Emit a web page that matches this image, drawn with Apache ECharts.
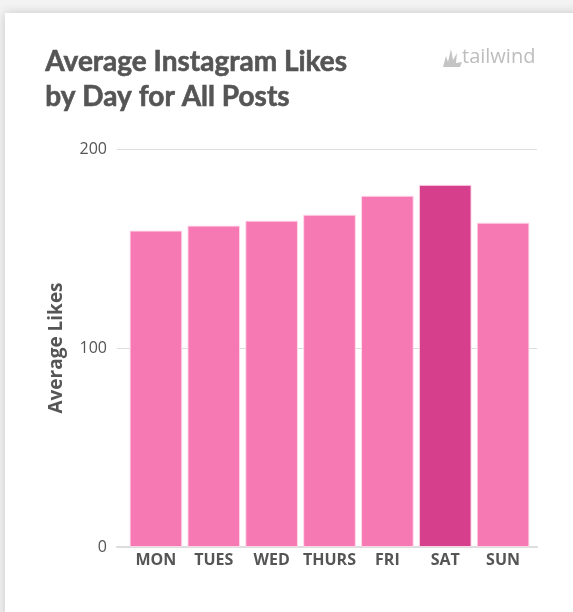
<!DOCTYPE html>
<html>
<head>
<meta charset="utf-8">
<script src="https://cdn.jsdelivr.net/npm/echarts@6/dist/echarts.min.js"></script>
<style>
html,body{margin:0;padding:0;background:#f3f3f3;}
#chart{width:573px;height:612px;}
</style>
</head>
<body>
<div id="chart"></div>
<script>
const titleLines = ['Average Instagram Likes', 'by Day for All Posts'];
const categories = ['MON', 'TUES', 'WED', 'THURS', 'FRI', 'SAT', 'SUN'];
const likes = [159, 161.5, 164, 167, 176.5, 182, 163];
const highlightDay = 'SAT';
const yTicks = [0, 100, 200];
const yAxisTitle = 'Average Likes';
const brand = 'tailwind';

const pink = '#f779b4';
const deep = '#d63f8c';
const textColor = '#555555';

const chart = echarts.init(document.getElementById('chart'), null, {renderer: 'canvas'});

const option = {
  backgroundColor: '#f3f3f3',
  animation: false,
  graphic: [
    {type: 'rect', z: -10, shape: {x: 5, y: 13, width: 620, height: 650},
     style: {fill: '#ffffff', shadowBlur: 10, shadowColor: 'rgba(0,0,0,0.18)'}},
    {type: 'text', left: 45, top: 44,
     style: {text: titleLines.join('\n'), fill: textColor, font: 'bold 28px Lato', lineHeight: 35,
             stroke: textColor, lineWidth: 0.6}},
    {type: 'text', left: 462, top: 47,
     style: {text: brand, fill: '#bdbdbd', font: '20px "Open Sans"'}},
    {type: 'polygon', shape: {points: [[443,67],[446,56],[448,62],[451,49],[453,60],[457,53],[456,63],[462,62],[460,67]]},
     style: {fill: '#c4c4c4'}}
  ],
  grid: [
    {left: 117, right: 36, top: 149, bottom: 65, containLabel: false},
    {left: 127, right: 41, top: 149, bottom: 65, containLabel: false}
  ],
  xAxis: [
    {type: 'category', gridIndex: 0, data: categories, axisTick: {show: false}, axisLabel: {show: false},
     axisLine: {lineStyle: {color: '#dddddd', width: 2}}},
    {type: 'category', gridIndex: 1, data: categories, axisTick: {show: false}, axisLine: {show: false},
     axisLabel: {interval: 0, color: textColor, fontFamily: 'Open Sans', fontWeight: 'bold', fontSize: 16, margin: 5}}
  ],
  yAxis: [
    {type: 'value', gridIndex: 0, min: yTicks[0], max: yTicks[yTicks.length - 1], interval: 100,
     name: yAxisTitle, nameLocation: 'middle', nameGap: 51,
     nameTextStyle: {color: textColor, fontFamily: 'Open Sans', fontWeight: 'bold', fontSize: 19},
     axisLine: {show: false}, axisTick: {show: false},
     axisLabel: {color: textColor, fontFamily: 'Open Sans', fontSize: 16, margin: 10},
     splitLine: {lineStyle: {color: '#dddddd', width: 1}}},
    {type: 'value', gridIndex: 1, min: yTicks[0], max: yTicks[yTicks.length - 1], interval: 100, show: false}
  ],
  series: [{
    type: 'bar', xAxisIndex: 1, yAxisIndex: 1,
    barCategoryGap: '9%',
    data: likes.map((v, i) => ({
      value: v,
      itemStyle: {color: categories[i] === highlightDay ? deep : pink}
    })),
    itemStyle: {borderColor: 'rgba(255,220,235,0.9)', borderWidth: 1}
  }]
};
chart.setOption(option);
</script>
</body>
</html>
